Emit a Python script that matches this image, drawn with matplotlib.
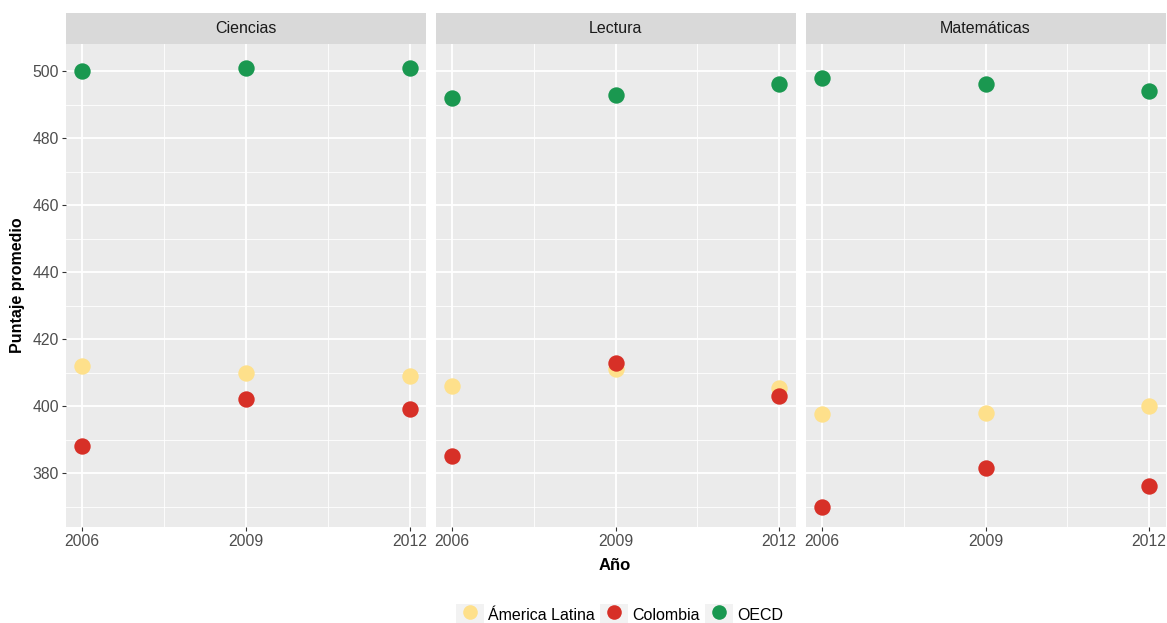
import matplotlib
matplotlib.use("Agg")
import matplotlib.pyplot as plt
from matplotlib.lines import Line2D
from matplotlib.patches import Rectangle
from matplotlib.legend_handler import HandlerTuple

# PISA average scores by subject, year and group
subjects = ["Ciencias", "Lectura", "Matemáticas"]
years = [2006, 2009, 2012]
groups = ["Ámerica Latina", "Colombia", "OECD"]
colors = ["#FEE08B", "#D73027", "#1A9850"]

ciencias_al = [412, 410, 409]
ciencias_col = [388, 402, 399]
ciencias_oecd = [500, 501, 501]

lectura_al = [406, 411, 405.5]
lectura_col = [385, 413, 403]
lectura_oecd = [492, 493, 496]

matematicas_al = [397.5, 398, 400]
matematicas_col = [370, 381.5, 376]
matematicas_oecd = [498, 496, 494]

scores = {
    "Ciencias": [ciencias_al, ciencias_col, ciencias_oecd],
    "Lectura": [lectura_al, lectura_col, lectura_oecd],
    "Matemáticas": [matematicas_al, matematicas_col, matematicas_oecd],
}

y_major = [380, 400, 420, 440, 460, 480, 500]
y_minor = [370, 390, 410, 430, 450, 470, 490]
x_minor = [2007.5, 2010.5]

plt.rcParams["font.family"] = ["Liberation Sans", "DejaVu Sans"]

W, H = 1167, 623
fig = plt.figure(figsize=(W / 100, H / 100), dpi=100)


def rect(x0, x1, y0, y1):
    return [x0 / W, 1 - y1 / H, (x1 - x0) / W, (y1 - y0) / H]


panel_x = [(65.7, 426.0), (435.7, 795.5), (805.7, 1165.5)]
panel_y = (44.3, 527.0)
strip_y = (13.3, 44.3)

for i, subj in enumerate(subjects):
    x0, x1 = panel_x[i]
    ax = fig.add_axes(rect(x0, x1, *panel_y))
    ax.set_facecolor("#EBEBEB")
    for s in ax.spines.values():
        s.set_visible(False)

    ax.set_xlim(2005.7, 2012.3)
    ax.set_ylim(363.9, 508.0)

    for yv in y_minor:
        ax.axhline(yv, color="white", lw=0.6, zorder=0.5)
    for xv in x_minor:
        ax.axvline(xv, color="white", lw=0.6, zorder=0.5)
    for yv in y_major:
        ax.axhline(yv, color="white", lw=1.3, zorder=0.6)
    for xv in years:
        ax.axvline(xv, color="white", lw=1.3, zorder=0.6)

    for vals, col in zip(scores[subj], colors):
        ax.plot(years, vals, ls="none", marker="o", ms=11.8,
                mfc=col, mec="none", zorder=3)

    ax.set_xticks(years)
    ax.set_xticklabels([str(y) for y in years])
    ax.set_yticks(y_major)
    ax.tick_params(axis="both", length=3, width=0.8, color="#333333",
                   labelcolor="#4D4D4D", labelsize=11.3, pad=2)
    if i == 0:
        ax.set_yticklabels([str(v) for v in y_major])
    else:
        ax.tick_params(axis="y", length=0, labelleft=False)

    sax = fig.add_axes(rect(x0, x1, *strip_y))
    sax.set_facecolor("#D9D9D9")
    sax.set_xticks([])
    sax.set_yticks([])
    for s in sax.spines.values():
        s.set_visible(False)
    sax.text(0.5, 0.5, subj, ha="center", va="center", fontsize=11.5,
             color="#1A1A1A", transform=sax.transAxes)

fig.text(18 / W, 1 - 285.6 / H, "Puntaje promedio", rotation=90,
         ha="center", va="center", fontsize=11.5, fontweight="bold",
         color="black")
fig.text(615 / W, 1 - 565 / H, "Año", ha="center", va="center",
         fontsize=12, fontweight="bold", color="black")

handles = []
for col in colors:
    box = Rectangle((0, 0), 1, 1, facecolor="#F2F2F2", edgecolor="none")
    dot = Line2D([], [], ls="none", marker="o", ms=10.5, mfc=col, mec="none")
    handles.append((box, dot))

fig.legend(handles, groups, handler_map={tuple: HandlerTuple(ndivide=1)},
           loc="center", bbox_to_anchor=(619.5 / W, 1 - 615 / H), ncol=3,
           frameon=False, fontsize=11.5, handlelength=1.75, handleheight=1.75,
           handletextpad=0.25, columnspacing=0.36, borderpad=0,
           borderaxespad=0, labelcolor="black")

fig.savefig("out.png", dpi=100)
